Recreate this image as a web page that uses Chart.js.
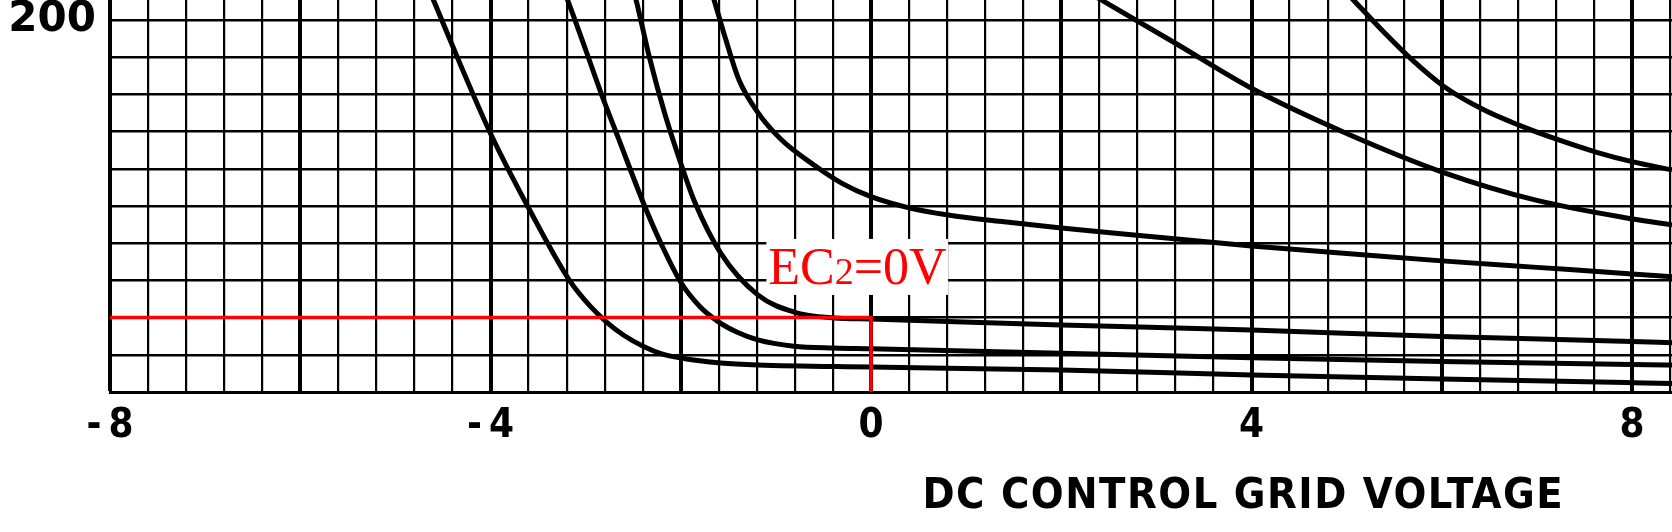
<!DOCTYPE html>
<html>
<head>
<meta charset="utf-8">
<script src="https://cdn.jsdelivr.net/npm/chart.js@4.4.1/dist/chart.umd.min.js"></script>
<style>
  html, body { margin: 0; padding: 0; background: #fff; }
  #wrap { width: 1672px; height: 532px; }
</style>
</head>
<body>
<div id="wrap"><canvas id="plot" width="1672" height="532"></canvas></div>
<script>
// curves, [grid volts, y]
const curveA = [[-4.77, 231], [-4.6, 210.8], [-4.3, 174], [-4.0, 139], [-3.59, 98], [-3.17, 60], [-2.95, 46], [-2.78, 37.6], [-2.6, 30.5], [-2.38, 24.2], [-2.2, 20.5], [-2.0, 18.3], [-1.58, 15.6], [-1.19, 14.5], [0, 13.4], [2, 11.8], [4, 9.2], [6, 7.0], [8, 5.0], [8.42, 4.6]];
const curveB = [[-3.35, 232], [-3.19, 210.8], [-3.0, 184], [-2.84, 161], [-2.66, 137], [-2.38, 100], [-2.2, 79], [-2.0, 59], [-1.8, 46], [-1.6, 37.6], [-1.4, 32], [-1.19, 28], [-0.81, 24.6], [-0.39, 23.6], [0, 23.2], [2, 20.8], [4, 18.4], [6, 16.4], [8, 14.8], [8.42, 14.5]];
const curveC = [[-2.58, 231], [-2.47, 210.8], [-2.33, 180], [-2.17, 150], [-2.0, 123], [-1.86, 103], [-1.58, 74.7], [-1.19, 52.2], [-0.81, 43], [-0.39, 39.8], [0, 39.2], [2, 36], [4, 33.3], [6, 29.8], [8, 27.2], [8.42, 26.5]];
const curveD = [[-1.78, 232], [-1.65, 210.8], [-1.53, 190], [-1.39, 168], [-1.2, 151], [-0.95, 136], [-0.6, 122], [-0.3, 112], [0, 105], [0.4, 99], [0.81, 95.2], [1.4, 91.5], [2, 88.2], [2.82, 84.2], [4, 78.5], [5, 74.5], [6, 70.5], [7, 67], [8, 63.5], [8.42, 62]];
const curveE = [[1.9, 226], [2.42, 210.8], [3.2, 187.5], [4.01, 163], [5.0, 139], [6.02, 118], [7.0, 103], [8.01, 93], [8.42, 89.8]];
const curveF = [[4.75, 228], [5.07, 210.8], [5.4, 193], [5.7, 178], [6.03, 164], [6.43, 152], [6.81, 143.5], [7.23, 135.5], [7.62, 129], [8.01, 123.7], [8.42, 119.4]];
const refLine = [[-8, 40], [0, 40], [0, 0]];

const xTickLabels = [-8, -4, 0, 4, 8];
const yTickLabels = [200];
const axisTitle = 'DC CONTROL GRID VOLTAGE';
const noteParts = ['EC', '2', '=0V'];

function toPoints(arr) {
    return arr.map(p => ({ x: p[0], y: p[1] }));
}

function curveSet(arr) {
    return {
        data: toPoints(arr),
        borderColor: '#000',
        borderWidth: 5,
        pointRadius: 0,
        cubicInterpolationMode: 'monotone',
        fill: false
    };
}

const isMajor = v => Math.abs(v / 2 - Math.round(v / 2)) < 1e-6;

const annotate = {
    id: 'annotate',
    beforeDatasetsDraw(chart) {
        const { ctx, scales: { x, y } } = chart;
        // white patch behind the red note
        const l = x.getPixelForValue(-1.10), r = x.getPixelForValue(0.81);
        const t = y.getPixelForValue(82.3), b = y.getPixelForValue(52.2);
        ctx.save();
        ctx.fillStyle = '#fff';
        ctx.fillRect(l, t, r - l, b - t);
        ctx.restore();
    },
    afterDraw(chart) {
        const { ctx, scales: { x, y } } = chart;
        ctx.save();
        ctx.fillStyle = '#ff0000';
        ctx.textBaseline = 'alphabetic';
        let px = x.getPixelForValue(-1.08);
        const py = y.getPixelForValue(58);
        const sizes = [52, 38, 52];
        noteParts.forEach((s, i) => {
            ctx.font = sizes[i] + 'px "Liberation Serif"';
            ctx.fillText(s, px, py);
            px += ctx.measureText(s).width;
        });

        ctx.fillStyle = '#000';
        ctx.font = 'bold 43px "DejaVu Sans Condensed"';
        const left = x.getPixelForValue(0.54), right = x.getPixelForValue(7.27);
        ctx.letterSpacing = '0px';
        const w0 = ctx.measureText(axisTitle).width;
        const sp = (right - left - w0) / (axisTitle.length - 1);
        ctx.letterSpacing = sp + 'px';
        ctx.textBaseline = 'middle';
        ctx.fillText(axisTitle, left, chart.chartArea.bottom + 105);
        ctx.restore();
    }
};

new Chart(document.getElementById('plot'), {
    type: 'line',
    data: {
        datasets: [
            { data: toPoints(refLine), borderColor: '#ff0000', borderWidth: 3.5, pointRadius: 0, tension: 0, fill: false },
            curveSet(curveA),
            curveSet(curveB),
            curveSet(curveC),
            curveSet(curveD),
            curveSet(curveE),
            curveSet(curveF)
        ]
    },
    options: {
        responsive: false,
        animation: false,
        devicePixelRatio: 1,
        layout: { padding: 0 },
        plugins: { legend: { display: false }, tooltip: { enabled: false }, title: { display: false } },
        scales: {
            x: {
                type: 'linear',
                min: -8,
                max: 8.42,
                afterFit(s) { s.height = 140; s.paddingLeft = 0; s.paddingRight = 0; },
                ticks: {
                    stepSize: 0.4,
                    autoSkip: false,
                    maxRotation: 0,
                    includeBounds: false,
                    padding: 11,
                    color: '#000',
                    font: { family: 'DejaVu Sans Condensed', size: 40, weight: 'bold' },
                    callback: v => {
                        const r = Math.round(v * 10) / 10;
                        if (!xTickLabels.includes(r)) return '';
                        return r < 0 ? '-\u2009' + Math.abs(r) : String(r);
                    }
                },
                grid: {
                    color: '#000',
                    drawTicks: false,
                    lineWidth: c => (c.tick && isMajor(c.tick.value)) ? 4 : 2.2
                },
                border: { display: true, color: '#000', width: 3 }
            },
            y: {
                min: 0,
                max: 210.75,
                afterFit(s) { s.width = 110; s.paddingTop = 0; s.paddingBottom = 0; },
                ticks: {
                    stepSize: 20,
                    autoSkip: false,
                    includeBounds: false,
                    padding: 14,
                    color: '#000',
                    font: { family: 'DejaVu Sans', size: 42, weight: 'bold' },
                    callback: v => yTickLabels.includes(v) ? String(v) : ''
                },
                grid: { color: '#000', lineWidth: 2.4, drawTicks: false },
                border: { display: true, color: '#000', width: 3 }
            }
        }
    },
    plugins: [annotate]
});
</script>
</body>
</html>
